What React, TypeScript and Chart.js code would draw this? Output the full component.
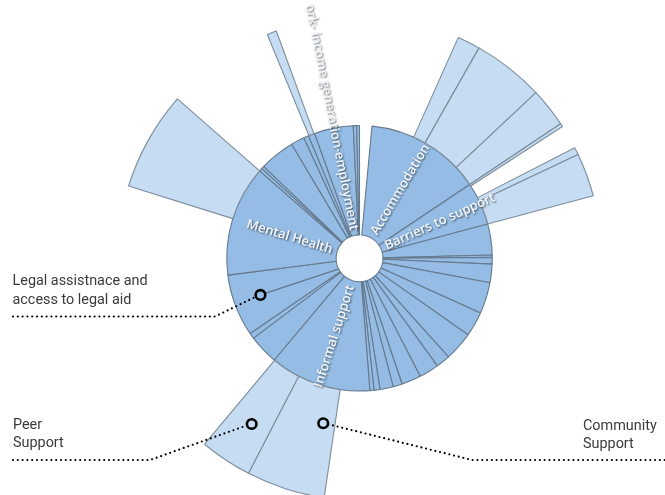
import React, { useEffect, useRef } from "react";
import { Chart, registerables } from "chart.js";

Chart.register(...registerables);

// ---------- DATA: angular extent (degrees) of each sector, clockwise from 12 o'clock ----------
// Inner ring (themes). null = empty gap.
const innerLabels: (string | null)[] = [
  null,
  "Accommodation",
  "Barriers to support",
  "", "", "", "", "", "", "", "", "", "", "", "", "", "",
  "Informal support",
  "", "",
  "Legal assistnace and access to legal aid",
  "Mental Health",
  "", "", "", "", "", "",
  "ork- income generation-employment",
  "", "",
];
const innerValues: number[] = [
  5.4, 50.8, 18.8, 13.6, 1.0, 2.9, 8.1, 13.7, 10.9, 12.7, 6.2, 8.7, 8.5, 4.0, 5.8, 2.6,
  1.8, 44.5, 13.0, 2.5, 27.2, 48.5, 1.4, 1.2, 15.5, 5.9, 2.2, 2.8, 17.1, 1.5, 1.2,
];

// Outer ring (sub-themes). null = empty gap.
const outerLabels: (string | null)[] = [
  null, "", "", "", "", null, "", "", null,
  "Community Support", "Peer Support",
  null, "", null, "", null,
];
const outerValues: number[] = [
  24.1, 5.5, 17.2, 9.4, 0.8, 5.8, 1.8, 10.4, 113.4, 18.9, 12.5, 67.6, 23.8, 26.4, 2.3, 20.1,
];

// Labels written radially inside the inner ring
const radialLabels: string[] = [
  "Accommodation",
  "Barriers to support",
  "Informal support",
  "Mental Health",
  "ork- income generation-employment",
];

// Call-outs: text lines
const legalText = ["Legal assistnace and", "access to legal aid"];
const peerText = ["Peer", "Support"];
const communityText = ["Community", "Support"];

// ---------- STYLE ----------
const INNER_FILL = "#94bce5";
const OUTER_FILL = "#c5dcf2";
const BORDER = "#667a8e";
const TRANSPARENT = "rgba(0,0,0,0)";

const labelPlugin = {
  id: "radialLabels",
  afterDatasetsDraw(chart: any) {
    const ctx = chart.ctx as CanvasRenderingContext2D;
    const meta = chart.getDatasetMeta(1);
    meta.data.forEach((el: any, i: number) => {
      const name = innerLabels[i];
      if (!name || !radialLabels.includes(name)) return;
      const { x, y, startAngle, endAngle, innerRadius } = el.getProps(
        ["x", "y", "startAngle", "endAngle", "innerRadius"],
        true
      );
      const TAU = Math.PI * 2;
      const m = ((((startAngle + endAngle) / 2) % TAU) + TAU) % TAU;
      const left = Math.cos(m) < 0;
      ctx.save();
      ctx.translate(x, y);
      ctx.font = '600 13px "Open Sans"';
      ctx.textBaseline = "middle";
      ctx.shadowColor = "rgba(0,0,0,0.6)";
      ctx.shadowBlur = 2;
      ctx.shadowOffsetX = 1;
      ctx.shadowOffsetY = 1;
      ctx.fillStyle = "#f4f7fb";
      if (left) {
        ctx.rotate(m + Math.PI);
        ctx.textAlign = "right";
        ctx.fillText(name, -(innerRadius + 5), 0);
      } else {
        ctx.rotate(m);
        ctx.textAlign = "left";
        ctx.fillText(name, innerRadius + 5, 0);
      }
      ctx.restore();
    });
  },
  afterDraw(chart: any) {
    const ctx = chart.ctx as CanvasRenderingContext2D;
    const arc = chart.getDatasetMeta(1).data[0] as any;
    const cx = arc.x;
    const cy = arc.y;
    const polar = (bearingDeg: number, r: number) => {
      const b = (bearingDeg * Math.PI) / 180;
      return [cx + r * Math.sin(b), cy - r * Math.cos(b)];
    };
    const legal = polar(249.7, 105.6);
    const peer = polar(213.05, 197.7);
    const community = polar(192.4, 168.9);

    // pointer line from hole to the legal call-out
    ctx.save();
    const hs = polar(242.5, 23);
    ctx.strokeStyle = "#60778c";
    ctx.lineWidth = 1.2;
    ctx.beginPath();
    ctx.moveTo(hs[0], hs[1]);
    ctx.lineTo(legal[0] + 4.6, legal[1] - 1.5);
    ctx.stroke();
    ctx.restore();

    const dotted = (pts: number[][]) => {
      ctx.save();
      ctx.strokeStyle = "#000";
      ctx.lineWidth = 2.2;
      ctx.lineCap = "round";
      ctx.setLineDash([0, 4.8]);
      ctx.beginPath();
      ctx.moveTo(pts[0][0], pts[0][1]);
      for (let k = 1; k < pts.length; k++) ctx.lineTo(pts[k][0], pts[k][1]);
      ctx.stroke();
      ctx.restore();
    };
    const ring = (p: number[]) => {
      ctx.save();
      ctx.strokeStyle = "#000";
      ctx.lineWidth = 2.6;
      ctx.beginPath();
      ctx.arc(p[0], p[1], 4.8, 0, Math.PI * 2);
      ctx.stroke();
      ctx.restore();
    };
    dotted([[13, 316.5], [215, 316.5], [legal[0] - 5, legal[1] + 2]]);
    dotted([[13, 460], [150, 460], [peer[0] - 5, peer[1] + 1.5]]);
    dotted([[community[0] + 5, community[1] + 1], [472, 460], [665, 460]]);
    ring(legal);
    ring(peer);
    ring(community);

    ctx.save();
    ctx.font = '14.4px Roboto';
    ctx.fillStyle = "#3a3a3a";
    ctx.textAlign = "left";
    ctx.textBaseline = "alphabetic";
    ctx.fillText(legalText[0], 12.5, 285);
    ctx.fillText(legalText[1], 12.5, 303.5);
    ctx.fillText(peerText[0], 13, 428.5);
    ctx.fillText(peerText[1], 13, 446.5);
    ctx.fillText(communityText[0], 583, 429.5);
    ctx.fillText(communityText[1], 583, 447.5);
    ctx.restore();
  },
};

export default function App() {
  const ref = useRef<HTMLCanvasElement | null>(null);
  useEffect(() => {
    if (!ref.current) return;
    const chart = new Chart(ref.current, {
      type: "doughnut",
      data: {
        labels: innerLabels.map((l) => l ?? ""),
        datasets: [
          {
            data: outerValues,
            backgroundColor: outerLabels.map((l) => (l === null ? TRANSPARENT : OUTER_FILL)),
            borderColor: outerLabels.map((l) => (l === null ? TRANSPARENT : "#7d8d9c")),
            borderWidth: outerLabels.map((l) => (l === null ? 0 : 1.1)),
          },
          {
            data: innerValues,
            backgroundColor: innerLabels.map((l) => (l === null ? TRANSPARENT : INNER_FILL)),
            borderColor: innerLabels.map((l) => (l === null ? TRANSPARENT : BORDER)),
            borderWidth: innerLabels.map((l) => (l === null ? 0 : 1.1)),
          },
        ],
      },
      options: {
        responsive: false,
        animation: false,
        events: [],
        radius: 242,
        cutout: "9.7%",
        rotation: 0,
        circumference: 360,
        layout: { padding: { left: 54, top: 21.6, right: 0, bottom: 0 } },
        plugins: { legend: { display: false }, tooltip: { enabled: false } },
      } as any,
      plugins: [labelPlugin],
    });
    return () => chart.destroy();
  }, []);
  return (
    <div style={{ position: "fixed", left: 0, top: 0, width: 665, height: 495, background: "#fff" }}>
      <canvas ref={ref} width={665} height={495} style={{ width: 665, height: 495 }} />
    </div>
  );
}
